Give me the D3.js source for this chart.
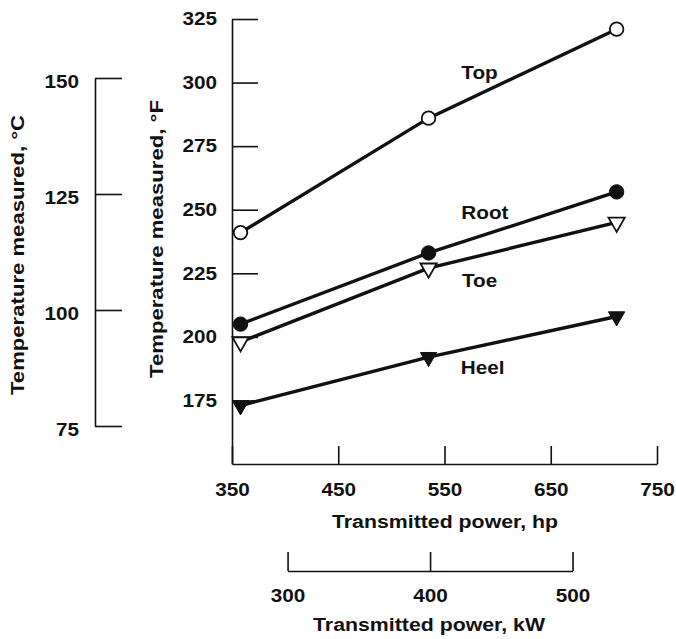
<!DOCTYPE html>
<html>
<head>
<meta charset="utf-8">
<script src="https://cdn.jsdelivr.net/npm/d3@7"></script>
<style>
  body { margin: 0; background: #fff; }
  svg { display: block; font-family: "Liberation Sans", Arial, sans-serif; }
</style>
</head>
<body>
<div id="chart"></div>
<script>
/* data */
const powerHp = [358, 535, 712];
const seriesNames = ["Top", "Root", "Toe", "Heel"];
const topF = [241, 286, 321];
const rootF = [205, 233, 257];
const toeF = [198, 227, 245];
const heelF = [173, 192, 208];
const seriesMarkers = ["openCircle", "circle", "openTriangle", "triangle"];
/* where each series label sits, in data units (hp, °F) */
const labelHp = [583, 588, 583, 586];
const labelF = [304, 249, 222, 188];

const hpTicks = [350, 450, 550, 650, 750];
const kwTicks = [300, 400, 500];
const fTicks = [150, 175, 200, 225, 250, 275, 300, 325];
const cTicks = [75, 100, 125, 150];

const W = 676, H = 639;

const svg = d3.select("#chart").append("svg")
    .attr("width", W).attr("height", H);

/* scales */
const x = d3.scaleLinear().domain([350, 750]).range([232, 657]);
const y = d3.scaleLinear().domain([150, 325]).range([464, 19]);
const yC = d3.scaleLinear().domain([75, 150]).range([426, 78]);
const HP_PER_KW = 1 / 0.7457;
const xKw = d3.scaleLinear().domain([300, 500])
    .range([x(300 * HP_PER_KW), x(500 * HP_PER_KW)]);

// the scan has a wide face, stretch text sideways to match
const widen = function(sel, f) {
    sel.each(function() {
        const w = this.getComputedTextLength();
        d3.select(this).attr("textLength", w * f).attr("lengthAdjust", "spacingAndGlyphs");
    });
};

const styleAxis = function(g) {
    g.select(".domain").attr("stroke", "#111").attr("stroke-width", 1.6);
    g.selectAll(".tick line").attr("stroke", "#111").attr("stroke-width", 1.6);
    g.selectAll(".tick text").attr("fill", "#111")
        .style("font-size", "18px").style("font-weight", "bold");
    widen(g.selectAll(".tick text"), 1.15);
};

/* °F axis */
svg.append("g").attr("transform", "translate(232,0)")
    .call(d3.axisLeft(y).tickValues(fTicks.slice(1)).tickSizeInner(-26).tickSizeOuter(0).tickPadding(15))
    .call(styleAxis);

/* °C axis */
svg.append("g").attr("transform", "translate(95,0)")
    .call(d3.axisLeft(yC).tickValues(cTicks).tickSizeInner(-27).tickSizeOuter(0).tickPadding(16))
    .call(styleAxis)
    .selectAll(".tick text").attr("dy", "0.5em");

/* hp axis */
svg.append("g").attr("transform", "translate(0,464)")
    .call(d3.axisBottom(x).tickValues(hpTicks).tickSizeInner(-18).tickSizeOuter(0).tickPadding(19))
    .call(styleAxis);

/* kW axis */
svg.append("g").attr("transform", "translate(0,571)")
    .call(d3.axisBottom(xKw).tickValues(kwTicks).tickSizeInner(-19).tickSizeOuter(0).tickPadding(18))
    .call(styleAxis);

/* axis titles */
const titles = [
    { t: "Temperature measured, \u00b0C", x: 18, y: 255, rot: -90, len: 280 },
    { t: "Temperature measured, \u00b0F", x: 157, y: 239, rot: -90, len: 278 },
    { t: "Transmitted power, hp", x: 445, y: 522, rot: 0, len: 226 },
    { t: "Transmitted power, kW", x: 429, y: 625, rot: 0, len: 232 }
];
svg.selectAll(".title").data(titles).enter().append("text")
    .attr("class", "title")
    .attr("transform", d => `translate(${d.x},${d.y}) rotate(${d.rot})`)
    .attr("text-anchor", "middle")
    .attr("dy", "0.36em")
    .attr("fill", "#111")
    .style("font-size", "18px")
    .style("font-weight", "bold")
    .attr("textLength", d => d.len)
    .attr("lengthAdjust", "spacingAndGlyphs")
    .text(d => d.t);

/* series */
const allSeries = [topF, rootF, toeF, heelF].map((vals, i) => ({
    name: seriesNames[i],
    marker: seriesMarkers[i],
    pts: vals.map((v, j) => ({ hp: powerHp[j], f: v }))
}));

const line = d3.line().x(d => x(d.hp)).y(d => y(d.f));

svg.selectAll(".series").data(allSeries).enter().append("path")
    .attr("class", "series")
    .attr("fill", "none")
    .attr("stroke", "#111")
    .attr("stroke-width", 3.4)
    .attr("d", d => line(d.pts));

const tri = d3.symbol().type(d3.symbolTriangle).size(115);

allSeries.forEach(function(s) {
    const g = svg.append("g");
    const open = s.marker.startsWith("open");
    if (s.marker.endsWith("ircle")) {
        g.selectAll("circle").data(s.pts).enter().append("circle")
            .attr("cx", d => x(d.hp)).attr("cy", d => y(d.f))
            .attr("r", open ? 6.8 : 7.2)
            .attr("fill", open ? "#fff" : "#111")
            .attr("stroke", "#111").attr("stroke-width", open ? 1.8 : 1);
    } else {
        g.selectAll("path").data(s.pts).enter().append("path")
            .attr("transform", d => `translate(${x(d.hp)},${y(d.f)}) rotate(180)`)
            .attr("d", tri)
            .attr("fill", open ? "#fff" : "#111")
            .attr("stroke", "#111").attr("stroke-width", open ? 1.8 : 1);
    }
});

/* series labels */
const lab = svg.selectAll(".lab").data(seriesNames).enter().append("text")
    .attr("class", "lab")
    .attr("x", (d, i) => x(labelHp[i]))
    .attr("y", (d, i) => y(labelF[i]))
    .attr("text-anchor", "middle")
    .attr("dy", "0.36em")
    .attr("fill", "#111")
    .style("font-size", "18px")
    .style("font-weight", "bold")
    .text(d => d);
widen(lab, 1.15);
</script>
</body>
</html>
